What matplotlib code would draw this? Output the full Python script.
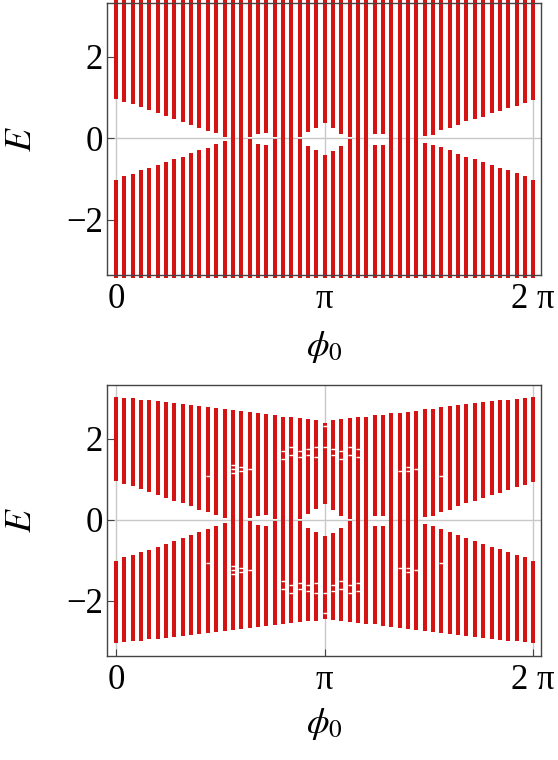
import matplotlib.pyplot as plt
import numpy as np

plt.rcParams['font.family'] = ['Liberation Serif', 'DejaVu Serif']
plt.rcParams['mathtext.fontset'] = 'stix'

# 51 values of phi0 between 0 and 2 pi
phi = np.linspace(0, 2 * np.pi, 51)

# inner gap edges (same in both panels), upper edge and |lower edge|
gap_hi = [0.96, 0.89, 0.83, 0.76, 0.69, 0.62, 0.54, 0.47, 0.40, 0.33,
          0.24, 0.18, 0.12, 0.04, 0.00, 0.00, 0.03, 0.10, 0.12, 0.02,
          0.00, 0.00, 0.02, 0.14, 0.26, 0.38, 0.24, 0.10, 0.02, 0.00,
          0.00, 0.10, 0.10, 0.00, 0.00, 0.00, 0.00, 0.06, 0.08, 0.19,
          0.25, 0.33, 0.42, 0.46, 0.53, 0.61, 0.67, 0.73, 0.80, 0.86, 0.93]
gap_lo = [1.02, 0.93, 0.87, 0.79, 0.74, 0.67, 0.59, 0.52, 0.45, 0.37,
          0.30, 0.23, 0.15, 0.07, 0.00, 0.00, 0.03, 0.14, 0.16, 0.02,
          0.00, 0.00, 0.03, 0.20, 0.30, 0.41, 0.32, 0.20, 0.02, 0.00,
          0.00, 0.16, 0.16, 0.00, 0.00, 0.00, 0.00, 0.11, 0.16, 0.22,
          0.30, 0.38, 0.45, 0.52, 0.59, 0.67, 0.72, 0.79, 0.86, 0.93, 1.02]

# top panel: bands run past the plot range
top_max = 3.45
top_min = -3.44

# bottom panel: outer band edges, upper and |lower|
out_hi = [3.03, 3.01, 2.99, 2.96, 2.94, 2.92, 2.90, 2.88, 2.85, 2.82,
          2.81, 2.77, 2.76, 2.73, 2.70, 2.67, 2.65, 2.63, 2.60, 2.57,
          2.54, 2.52, 2.50, 2.49, 2.46, 2.39, 2.46, 2.48, 2.50, 2.52,
          2.53, 2.57, 2.59, 2.63, 2.64, 2.66, 2.68, 2.72, 2.74, 2.77,
          2.80, 2.82, 2.85, 2.88, 2.90, 2.92, 2.94, 2.96, 2.98, 3.01, 3.03]
out_lo = [3.03, 3.01, 2.99, 2.98, 2.95, 2.93, 2.91, 2.89, 2.86, 2.84,
          2.82, 2.79, 2.76, 2.74, 2.73, 2.69, 2.66, 2.64, 2.62, 2.59,
          2.56, 2.55, 2.53, 2.50, 2.49, 2.45, 2.47, 2.49, 2.52, 2.54,
          2.56, 2.58, 2.62, 2.64, 2.66, 2.69, 2.72, 2.74, 2.77, 2.79,
          2.82, 2.84, 2.86, 2.89, 2.91, 2.93, 2.96, 2.98, 2.99, 3.01, 3.03]

# small gaps inside the bands of the bottom panel (index of phi, |E|)
hole_k = [11, 14, 14, 14, 15, 15, 16, 20, 20, 21, 21, 22, 22, 23, 23,
          24, 24, 25, 25, 26, 26, 27, 27, 28, 28, 29, 29, 34, 35, 35, 36, 39]
hole_e = [1.07, 1.15, 1.25, 1.35, 1.20, 1.30, 1.25, 1.50, 1.70, 1.60, 1.80,
          1.55, 1.70, 1.60, 1.75, 1.55, 1.80, 1.80, 2.30, 1.60, 1.75, 1.50,
          1.70, 1.60, 1.80, 1.55, 1.75, 1.20, 1.20, 1.30, 1.25, 1.07]

xticks = [0, np.pi, 2 * np.pi]
xticklabels = ['0', 'π', '2 π']
yticks = [-2, 0, 2]

red = '#d41414'
gray = '#c8c8c8'
frame = '#444444'

fig = plt.figure(figsize=(5.58, 7.6), dpi=100)
ax1 = fig.add_axes([107/558, 1 - 275/760, 434/558, 272/760])
ax2 = fig.add_axes([107/558, 1 - 656/760, 434/558, 271/760])

gap_hi = np.array(gap_hi)
gap_lo = np.array(gap_lo)

panels = [
    (ax1, np.full(51, top_max), np.full(51, top_min), False, -0.265),
    (ax2, np.array(out_hi), -np.array(out_lo), True, -0.25),
]

for ax, upper, lower, clip, xlab_y in panels:
    ax.axhline(0, color=gray, lw=1, zorder=1)
    for xt in xticks:
        ax.axvline(xt, color=gray, lw=1, zorder=1)
    ax.vlines(phi, gap_hi, upper, color=red, lw=2.9, zorder=3, clip_on=clip)
    ax.vlines(phi, lower, -gap_lo, color=red, lw=2.9, zorder=3, clip_on=clip)

    ax.set_xlim(-0.136, 6.40)
    ax.set_ylim(-3.36, 3.32)
    ax.set_xticks(xticks)
    ax.set_xticklabels(xticklabels)
    ax.set_yticks(yticks)
    ax.tick_params(direction='in', length=5, color=frame, labelsize=25)
    ax.tick_params(axis='x', pad=6)
    ax.tick_params(axis='y', pad=3)
    for s in ax.spines.values():
        s.set_color(frame)
        s.set_linewidth(1)
        s.set_zorder(4)

    ax.set_xlabel(r'$\phi_0$', fontsize=26, va='center')
    ax.xaxis.set_label_coords(0.5, xlab_y)
    ax.set_ylabel(r'$E$', fontsize=27, va='center', ha='center')
    ax.yaxis.set_label_coords(-0.196, 0.5)

hx = phi[hole_k]
he = np.array(hole_e)
ax2.scatter(hx, he, marker='_', s=6, color='white', linewidths=1, zorder=3.5)
ax2.scatter(hx, -he, marker='_', s=6, color='white', linewidths=1, zorder=3.5)

fig.savefig('out.png', dpi=100)
